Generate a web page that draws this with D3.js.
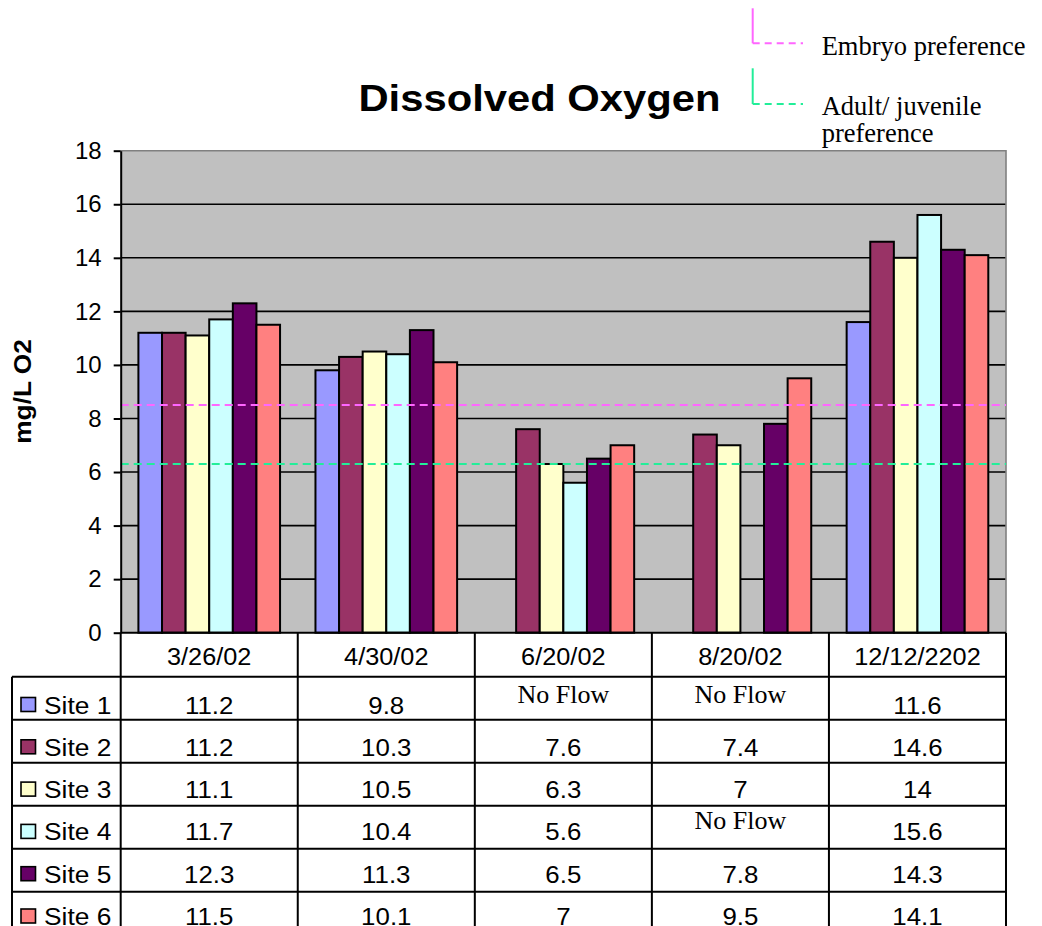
<!DOCTYPE html>
<html>
<head>
<meta charset="utf-8">
<script src="https://cdn.jsdelivr.net/npm/d3@7"></script>
<style>
  body { margin: 0; background: #fff; }
  svg { display: block; }
</style>
</head>
<body>
<svg id="chart" width="1042" height="926"></svg>
<script>
// ---- Data ----------------------------------------------------------
const categories = ["3/26/02", "4/30/02", "6/20/02", "8/20/02", "12/12/2202"];
const sites = ["Site 1", "Site 2", "Site 3", "Site 4", "Site 5", "Site 6"];
// null = no flow at that site on that date
const site1 = [11.2, 9.8, null, null, 11.6];
const site2 = [11.2, 10.3, 7.6, 7.4, 14.6];
const site3 = [11.1, 10.5, 6.3, 7, 14];
const site4 = [11.7, 10.4, 5.6, null, 15.6];
const site5 = [12.3, 11.3, 6.5, 7.8, 14.3];
const site6 = [11.5, 10.1, 7, 9.5, 14.1];
const seriesValues = [site1, site2, site3, site4, site5, site6];
const siteColors = ["#9999ff", "#993366", "#ffffcc", "#ccffff", "#660066", "#ff8080"];
const yTicks = [0, 2, 4, 6, 8, 10, 12, 14, 16, 18];
const embryoPreference = 8.5;
const adultPreference = 6.3;
const noFlowText = "No Flow";

// ---- Layout ----------------------------------------------------------
const svg = d3.select("#chart");
const plot = { left: 120.7, right: 1006, top: 150.7, bottom: 632.7 };
const table = { left: 12, headerBottom: 676.7, rowH: 43, textTop: 713.5, textStep: 42.3 };
const sans = "'Liberation Sans', Arial, sans-serif";
const serif = "'Liberation Serif', 'Times New Roman', serif";

// widen sans text slightly, the way the chart's typeface sets it
function widen(sel, k) {
  sel.each(function () {
    const len = this.getComputedTextLength();
    d3.select(this).attr("textLength", len * k).attr("lengthAdjust", "spacingAndGlyphs");
  });
}

const y = d3.scaleLinear().domain([0, 18]).range([plot.bottom, plot.top]);
const x0 = d3.scaleBand().domain(categories).range([plot.left, plot.right]).padding(0);
const bw = x0.bandwidth();
const x1 = d3.scaleBand().domain(sites).range([bw * 0.1, bw * 0.9]).padding(0);

// plot background
svg.append("rect")
  .attr("x", plot.left).attr("y", plot.top)
  .attr("width", plot.right - plot.left).attr("height", plot.bottom - plot.top)
  .attr("fill", "#c0c0c0");

// gridlines
svg.append("g").selectAll("line")
  .data(yTicks.filter(t => t > 0 && t < 18))
  .join("line")
  .attr("x1", plot.left).attr("x2", plot.right)
  .attr("y1", d => y(d)).attr("y2", d => y(d))
  .attr("stroke", "#000").attr("stroke-width", 1.6);

// plot border (top and right)
svg.append("path")
  .attr("d", `M${plot.left},${plot.top}H${plot.right}V${plot.bottom}`)
  .attr("fill", "none").attr("stroke", "#808080").attr("stroke-width", 1.6);

// bars
const groups = svg.append("g").selectAll("g")
  .data(categories)
  .join("g")
  .attr("transform", d => `translate(${x0(d)},0)`);

groups.selectAll("rect")
  .data((c, ci) => sites.map((s, si) => ({ site: s, si, v: seriesValues[si][ci] })).filter(d => d.v !== null))
  .join("rect")
  .attr("x", d => x1(d.site))
  .attr("y", d => y(d.v))
  .attr("width", x1.bandwidth())
  .attr("height", d => y(0) - y(d.v))
  .attr("fill", d => siteColors[d.si])
  .attr("stroke", "#000").attr("stroke-width", 2);

// preference reference lines
const prefs = [
  { v: embryoPreference, color: "#ff66ff" },
  { v: adultPreference, color: "#22ee99" }
];
svg.append("g").selectAll("line")
  .data(prefs)
  .join("line")
  .attr("x1", plot.left).attr("x2", plot.right)
  .attr("y1", d => y(d.v)).attr("y2", d => y(d.v))
  .attr("stroke", d => d.color).attr("stroke-width", 2)
  .attr("stroke-dasharray", "8,5");

// y axis
const yAxis = d3.axisLeft(y).tickValues(yTicks).tickSize(7).tickSizeOuter(0).tickPadding(12);
const gy = svg.append("g").attr("transform", `translate(${plot.left},0)`).call(yAxis);
gy.select(".domain").attr("stroke", "#000").attr("stroke-width", 2);
gy.selectAll(".tick line").attr("stroke", "#000").attr("stroke-width", 2);
gy.selectAll(".tick text")
  .attr("font-family", sans).attr("font-size", 24).attr("fill", "#000");

// x axis baseline
svg.append("line")
  .attr("x1", plot.left).attr("x2", plot.right)
  .attr("y1", plot.bottom).attr("y2", plot.bottom)
  .attr("stroke", "#000").attr("stroke-width", 2);

// title
svg.append("text")
  .attr("x", 539.5).attr("y", 110.7)
  .attr("text-anchor", "middle")
  .attr("font-family", sans).attr("font-weight", "bold").attr("font-size", 36)
  .text("Dissolved Oxygen")
  .call(widen, 1.16);

// y axis title
svg.append("text")
  .attr("transform", "translate(31,391.5) rotate(-90)")
  .attr("text-anchor", "middle")
  .attr("font-family", sans).attr("font-weight", "bold").attr("font-size", 23)
  .text("mg/L O2")
  .call(widen, 1.14);

// ---- Data table ------------------------------------------------------
const tableBottom = table.headerBottom + table.rowH * sites.length;
const tg = svg.append("g");

// vertical column lines
const colEdges = categories.map(c => x0(c)).concat([plot.right]);
tg.selectAll("line.col")
  .data(colEdges)
  .join("line").attr("class", "col")
  .attr("x1", d => d).attr("x2", d => d)
  .attr("y1", plot.bottom).attr("y2", tableBottom)
  .attr("stroke", "#000").attr("stroke-width", 2);
tg.append("line")
  .attr("x1", table.left).attr("x2", table.left)
  .attr("y1", table.headerBottom).attr("y2", tableBottom)
  .attr("stroke", "#000").attr("stroke-width", 2);

// horizontal row lines
const rowTops = d3.range(sites.length + 1).map(i => table.headerBottom + i * table.rowH);
tg.selectAll("line.row")
  .data(rowTops)
  .join("line").attr("class", "row")
  .attr("x1", table.left).attr("x2", plot.right)
  .attr("y1", d => d).attr("y2", d => d)
  .attr("stroke", "#000").attr("stroke-width", 2);

// header: dates
tg.selectAll("text.cat")
  .data(categories)
  .join("text").attr("class", "cat")
  .attr("x", d => x0(d) + bw / 2)
  .attr("y", plot.bottom + 32.5)
  .attr("text-anchor", "middle")
  .attr("font-family", sans).attr("font-size", 23)
  .text(d => d)
  .call(widen, 1.1);

// legend keys + site names (one text line per site)
const rows = tg.selectAll("g.site")
  .data(sites)
  .join("g").attr("class", "site")
  .attr("transform", (d, i) => `translate(0,${table.textTop + i * table.textStep})`);

rows.append("rect")
  .attr("x", 21).attr("y", -16).attr("width", 14.5).attr("height", 14)
  .attr("fill", (d, i) => siteColors[i])
  .attr("stroke", "#000").attr("stroke-width", 1.6);

rows.append("text")
  .attr("x", 44).attr("y", 0)
  .attr("font-family", sans).attr("font-size", 23.5)
  .text(d => d)
  .call(widen, 1.12);

// cell values
rows.each(function (s, si) {
  const cells = d3.select(this).selectAll("text.val")
    .data(categories.map((c, ci) => ({ c, v: seriesValues[si][ci] })))
    .join("text").attr("class", "val")
    .attr("x", d => x0(d.c) + bw / 2)
    .attr("text-anchor", "middle")
    .attr("fill", "#000");
  cells.filter(d => d.v !== null)
    .attr("y", 0)
    .attr("font-family", sans).attr("font-size", 23.5)
    .text(d => String(d.v))
    .call(widen, 1.1);
  cells.filter(d => d.v === null)
    .attr("y", -11)
    .attr("font-family", serif).attr("font-size", 26)
    .text(noFlowText);
});

// ---- Reference line legend -------------------------------------------
const legendItems = [
  { color: "#ff66ff", top: 8.3, y: 43.3, lines: ["Embryo preference"], textY: 55 },
  { color: "#22ee99", top: 68.3, y: 104, lines: ["Adult/ juvenile", "preference"], textY: 115 }
];
const lg = svg.append("g");
legendItems.forEach(item => {
  lg.append("line")
    .attr("x1", 752.7).attr("x2", 752.7).attr("y1", item.top).attr("y2", item.y)
    .attr("stroke", item.color).attr("stroke-width", 2);
  lg.append("line")
    .attr("x1", 752.7).attr("x2", 803).attr("y1", item.y).attr("y2", item.y)
    .attr("stroke", item.color).attr("stroke-width", 2)
    .attr("stroke-dasharray", "7,5");
  item.lines.forEach((t, i) => {
    lg.append("text")
      .attr("x", 821.7).attr("y", item.textY + i * 27)
      .attr("font-family", serif).attr("font-size", 26.5)
      .text(t);
  });
});
</script>
</body>
</html>
